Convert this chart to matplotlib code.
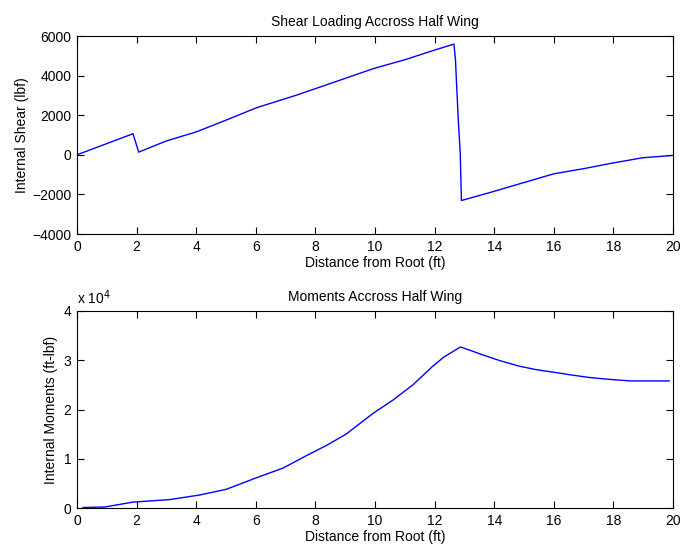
import matplotlib
matplotlib.use("Agg")
import matplotlib.pyplot as plt
from matplotlib.ticker import FuncFormatter

plt.rcParams['font.family'] = ['Liberation Sans', 'DejaVu Sans']
plt.rcParams['font.size'] = 10

# shear along the half span (ft, lbf)
shear_x = [0.0, 1.88, 2.07, 3.0, 3.99, 5.0, 6.03, 7.34, 8.5, 9.96, 11.0, 12.0, 12.65,
           12.7, 12.75, 12.8, 12.86, 12.9, 13.96, 15.0, 16.0, 17.0, 17.96, 18.98, 20.0]
shear_y = [0, 1064, 135, 700, 1150, 1750, 2380, 3000, 3600, 4360, 4800, 5290, 5590,
           4790, 3170, 1600, 90, -2310, -1860, -1400, -960, -700, -420, -150, -30]

# bending moment along the half span (ft, ft-lbf)
moment_x = [0.2, 0.93, 1.88, 3.1, 4.12, 5.01, 5.96, 6.91, 7.69, 8.4, 9.03, 9.93, 10.6,
            11.27, 11.94, 12.3, 12.65, 12.87, 13.2, 13.61, 14.2, 14.84, 15.4, 16.07,
            16.6, 17.19, 17.9, 18.58, 19.2, 19.87]
moment_y = [100, 200, 1200, 1700, 2640, 3800, 6000, 8100, 10600, 12800, 15000, 19200,
            21900, 25000, 28800, 30600, 31900, 32700, 32000, 31100, 29900, 28800, 28100,
            27500, 27000, 26500, 26100, 25800, 25800, 25800]

x_ticks = list(range(0, 21, 2))
shear_ticks = [-4000, -2000, 0, 2000, 4000, 6000]
moment_ticks = [0, 10000, 20000, 30000, 40000]


def style_axes(ax):
    ax.tick_params(direction='in', top=True, right=True, length=5, width=0.8,
                   labelsize=10, pad=4)
    for s in ax.spines.values():
        s.set_linewidth(0.8)


fig = plt.figure(figsize=(6.81, 5.48), dpi=100)

ax1 = fig.add_axes([77 / 681, 1 - 234 / 548, 596 / 681, 198 / 548])
ax1.plot(shear_x, shear_y, color='#0000ff', lw=1.0)
ax1.set_xlim(0, 20)
ax1.set_ylim(-4000, 6000)
ax1.set_xticks(x_ticks)
ax1.set_yticks(shear_ticks)
ax1.set_title("Shear Loading Accross Half Wing", fontsize=10, pad=7)
ax1.set_xlabel("Distance from Root (ft)", labelpad=2)
ax1.set_ylabel("Internal Shear (lbf)", labelpad=2)
style_axes(ax1)

ax2 = fig.add_axes([77 / 681, 1 - 508 / 548, 596 / 681, 197 / 548])
ax2.plot(moment_x, moment_y, color='#0000ff', lw=1.0)
ax2.set_xlim(0, 20)
ax2.set_ylim(0, 40000)
ax2.set_xticks(x_ticks)
ax2.set_yticks(moment_ticks)
ax2.yaxis.set_major_formatter(FuncFormatter(lambda v, p: f"{v / 1e4:g}"))
ax2.set_title("Moments Accross Half Wing", fontsize=10, pad=7)
ax2.set_xlabel("Distance from Root (ft)", labelpad=2)
ax2.set_ylabel("Internal Moments (ft-lbf)", labelpad=4)
ax2.text(0.0, 1.02, r"x 10$^4$", transform=ax2.transAxes, ha='left', va='bottom',
         fontsize=10)
style_axes(ax2)

fig.savefig("out.png", dpi=100)
